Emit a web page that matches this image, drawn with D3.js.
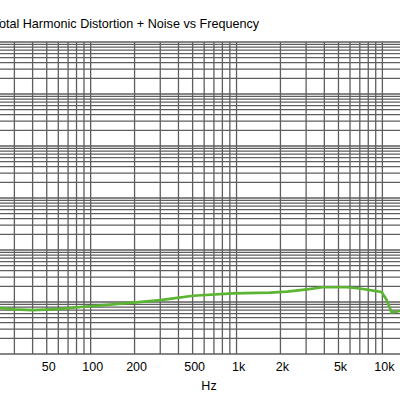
<!DOCTYPE html>
<html>
<head>
<meta charset="utf-8">
<script src="https://cdn.jsdelivr.net/npm/d3@7"></script>
<style>
  body { margin: 0; background: #fff; }
  svg { display: block; font-family: "Liberation Sans", Arial, sans-serif; }
</style>
</head>
<body>
<svg id="chart" width="400" height="400"></svg>
<script>
// data (Hz, THD+N in %)
const freqHz = [20, 24, 30, 40, 60, 89, 130, 195, 300, 504, 945, 1700, 2220, 3040, 3910, 5710, 7000, 8650, 9880, 10700, 11560, 12500, 13200];
const thdnPct = [0.00077, 0.00076, 0.00072, 0.00070, 0.00073, 0.00081, 0.00088, 0.00097, 0.00109, 0.00132, 0.00147, 0.00151, 0.00158, 0.00175, 0.00192, 0.00192, 0.00182, 0.00166, 0.00156, 0.00109, 0.00063, 0.00065, 0.00068];

// only the labels that fall inside the picture
const xTickValues = [50, 100, 200, 500, 1000, 2000, 5000, 10000];
const xTickLabels = ["50", "100", "200", "500", "1k", "2k", "5k", "10k"];
const yDecades = [0.0001, 0.001, 0.01, 0.1, 1, 10, 100];

const TITLE = "Total Harmonic Distortion + Noise vs Frequency";
const X_LABEL = "Hz";

// the picture is a crop: plot runs a bit past the left and right edges
const PLOT = { left: -11.3, right: 426.3, top: 42, bottom: 354 };

const svg = d3.select("#chart");

const x = d3.scaleLog().domain([20, 20000]).range([PLOT.left, PLOT.right]);
const y = d3.scaleLog().domain([0.0001, 100]).range([PLOT.bottom, PLOT.top]);

// minor + major grid values, 1..9 per decade
const xGrid = [];
[10, 100, 1000, 10000].forEach((d) => {
  for (let k = 1; k <= 9; k++) {
    const v = d * k;
    if (v >= 20 && v <= 20000) xGrid.push(v);
  }
});
xGrid.push(20000);
const yGrid = [];
yDecades.slice(0, -1).forEach((d) => {
  for (let k = 1; k <= 9; k++) yGrid.push(d * k);
});
yGrid.push(100);

const gridColor = "#5e5e5e";

svg
  .append("g")
  .attr("class", "grid-x")
  .selectAll("line")
  .data(xGrid)
  .join("line")
  .attr("x1", (d) => x(d))
  .attr("x2", (d) => x(d))
  .attr("y1", PLOT.top)
  .attr("y2", PLOT.bottom)
  .attr("stroke", gridColor)
  .attr("stroke-width", 1.3);

svg
  .append("g")
  .attr("class", "grid-y")
  .selectAll("line")
  .data(yGrid)
  .join("line")
  .attr("x1", PLOT.left)
  .attr("x2", PLOT.right)
  .attr("y1", (d) => y(d))
  .attr("y2", (d) => y(d))
  .attr("stroke", gridColor)
  .attr("stroke-width", 1.3);

// x tick labels
const xAxis = d3
  .axisBottom(x)
  .tickValues(xTickValues)
  .tickFormat((d, i) => xTickLabels[i])
  .tickSize(0)
  .tickPadding(8);

svg
  .append("g")
  .attr("transform", `translate(1.5, ${PLOT.bottom})`)
  .call(xAxis)
  .call((g) => g.select(".domain").remove())
  .selectAll("text")
  .attr("fill", "#000")
  .style("font-family", "Liberation Sans, Arial, sans-serif")
  .style("font-size", "12.5px");

svg
  .append("text")
  .attr("x", (PLOT.left + PLOT.right) / 2 + 1.5)
  .attr("y", 390)
  .attr("text-anchor", "middle")
  .style("font-size", "12.5px")
  .text(X_LABEL);

// title, its first letter falls off the left edge as in the crop
svg
  .append("text")
  .attr("x", 259)
  .attr("y", 28)
  .attr("text-anchor", "end")
  .style("font-size", "12.6px")
  .text(TITLE);

const line = d3
  .line()
  .x((d, i) => x(freqHz[i]))
  .y((d) => y(d));

svg
  .append("path")
  .datum(thdnPct)
  .attr("fill", "none")
  .attr("stroke", "#5cb532")
  .attr("stroke-width", 2.7)
  .attr("stroke-linejoin", "round")
  .attr("d", line);
</script>
</body>
</html>
